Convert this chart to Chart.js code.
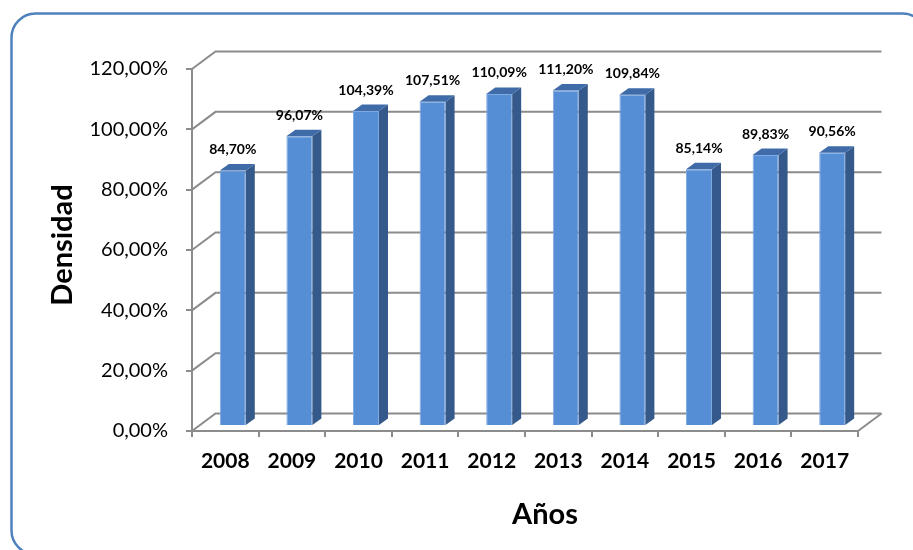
<!DOCTYPE html>
<html>
<head>
<meta charset="utf-8">
<script src="https://cdn.jsdelivr.net/npm/chart.js@4"></script>
<style>
  html, body { margin: 0; padding: 0; background: #fff; }
  #wrap { width: 913px; height: 550px; position: relative; }
</style>
</head>
<body>
<div id="wrap"><canvas id="densidadChart" width="913" height="550"></canvas></div>
<script>
// --- Data ---
const years = ['2008', '2009', '2010', '2011', '2012', '2013', '2014', '2015', '2016', '2017'];
const densidad = [84.70, 96.07, 104.39, 107.51, 110.09, 111.20, 109.84, 85.14, 89.83, 90.56];
const yTicks = [0, 20, 40, 60, 80, 100, 120];
const xTitle = 'Años';
const yTitle = 'Densidad';

// --- Look ---
const FONT = 'Lato, "Open Sans", sans-serif';
const GRID = '#8c8c8c';
const FRONT = '#558ed5';
const SIDE = '#35598a';
const TOP = '#3f6ca9';
const WALL_DX = 23.5, WALL_DY = 17.5;   // back wall offset
const BAR_DX = 7.5, BAR_DY = 5;         // bar plane offset
const DEPTH_X = 9, DEPTH_Y = 6.5;       // bar thickness

function pct(v) {
    return v.toFixed(2).replace('.', ',') + '%';
}

// frame round the whole chart
const framePlugin = {
    id: 'frame',
    beforeDraw(chart) {
        const ctx = chart.ctx;
        ctx.save();
        ctx.fillStyle = '#fff';
        ctx.fillRect(0, 0, chart.width, chart.height);
        ctx.strokeStyle = '#4f81bd';
        ctx.lineWidth = 2.5;
        ctx.beginPath();
        ctx.roundRect(11.5, 13.5, 915, 541, 24);
        ctx.stroke();
        ctx.restore();
    }
};

// back wall, floor and fake 3D faces of the bars
const depthPlugin = {
    id: 'depth',
    beforeDatasetsDraw(chart) {
        const { ctx, chartArea: a, scales: { y } } = chart;
        ctx.save();
        ctx.strokeStyle = GRID;
        ctx.lineWidth = 2;
        yTicks.forEach(v => {
            const py = y.getPixelForValue(v);
            ctx.beginPath();
            ctx.moveTo(a.left, py);
            ctx.lineTo(a.left + WALL_DX, py - WALL_DY);
            ctx.lineTo(a.right + WALL_DX, py - WALL_DY);
            ctx.stroke();
        });
        const p0 = y.getPixelForValue(0);
        ctx.beginPath();
        ctx.moveTo(a.right, p0);
        ctx.lineTo(a.right + WALL_DX, p0 - WALL_DY);
        ctx.stroke();
        ctx.restore();

        // push the bars back a little
        ctx.save();
        ctx.translate(BAR_DX, -BAR_DY);
    },
    afterDatasetsDraw(chart) {
        const ctx = chart.ctx;
        const meta = chart.getDatasetMeta(0);
        meta.data.forEach(bar => {
            const { x, y, base, width } = bar.getProps(['x', 'y', 'base', 'width'], true);
            const l = x - width / 2, r = x + width / 2;
            ctx.fillStyle = SIDE;
            ctx.beginPath();
            ctx.moveTo(r, y);
            ctx.lineTo(r + DEPTH_X, y - DEPTH_Y);
            ctx.lineTo(r + DEPTH_X, base - DEPTH_Y);
            ctx.lineTo(r, base);
            ctx.closePath();
            ctx.fill();
            ctx.fillStyle = TOP;
            ctx.beginPath();
            ctx.moveTo(l, y);
            ctx.lineTo(l + DEPTH_X, y - DEPTH_Y);
            ctx.lineTo(r + DEPTH_X, y - DEPTH_Y);
            ctx.lineTo(r, y);
            ctx.closePath();
            ctx.fill();
        });
        ctx.restore();

        // value labels
        ctx.save();
        ctx.fillStyle = '#000';
        ctx.font = 'bold 14px ' + FONT;
        ctx.textAlign = 'center';
        ctx.textBaseline = 'middle';
        meta.data.forEach((bar, i) => {
            const { x, y } = bar.getProps(['x', 'y'], true);
            ctx.fillText(pct(densidad[i]), x + BAR_DX, y - BAR_DY - 21);
        });
        ctx.restore();
    },
    afterDraw(chart) {
        const ctx = chart.ctx;
        ctx.save();
        ctx.fillStyle = '#000';
        ctx.font = 'bold 29px ' + FONT;
        ctx.textAlign = 'center';
        ctx.textBaseline = 'alphabetic';
        ctx.fillText(xTitle, 545, 524);
        ctx.translate(72, 245);
        ctx.rotate(-Math.PI / 2);
        ctx.fillText(yTitle, 0, 0);
        ctx.restore();
    }
};

const ctx = document.getElementById('densidadChart').getContext('2d');
const densidadChart = new Chart(ctx, {
    type: 'bar',
    data: {
        labels: years,
        datasets: [{
            label: yTitle,
            data: densidad,
            backgroundColor: FRONT,
            borderColor: '#7fa9e0',
            borderWidth: 1,
            barPercentage: 0.39,
            categoryPercentage: 1
        }]
    },
    options: {
        responsive: false,
        animation: false,
        layout: { padding: { left: 0, right: 55, top: 69, bottom: 0 } },
        plugins: {
            legend: { display: false },
            tooltip: { enabled: false }
        },
        scales: {
            x: {
                afterFit: scale => { scale.height = 119; },
                grid: {
                    drawOnChartArea: false,
                    drawTicks: true,
                    tickLength: 6,
                    color: GRID,
                    lineWidth: 2
                },
                border: { display: true, color: GRID, width: 2 },
                ticks: {
                    color: '#000',
                    padding: 12,
                    font: { family: FONT, size: 21, weight: 'bold' }
                }
            },
            y: {
                min: 0,
                max: 120,
                afterFit: scale => { scale.width = 192; },
                afterBuildTicks: scale => { scale.ticks = yTicks.map(v => ({ value: v })); },
                grid: {
                    drawOnChartArea: false,
                    drawTicks: true,
                    tickLength: 6,
                    color: GRID,
                    lineWidth: 2
                },
                border: { display: true, color: GRID, width: 2 },
                ticks: {
                    color: '#000',
                    padding: 18,
                    font: { family: FONT, size: 20 },
                    callback: v => pct(v)
                }
            }
        }
    },
    plugins: [framePlugin, depthPlugin]
});
</script>
</body>
</html>
